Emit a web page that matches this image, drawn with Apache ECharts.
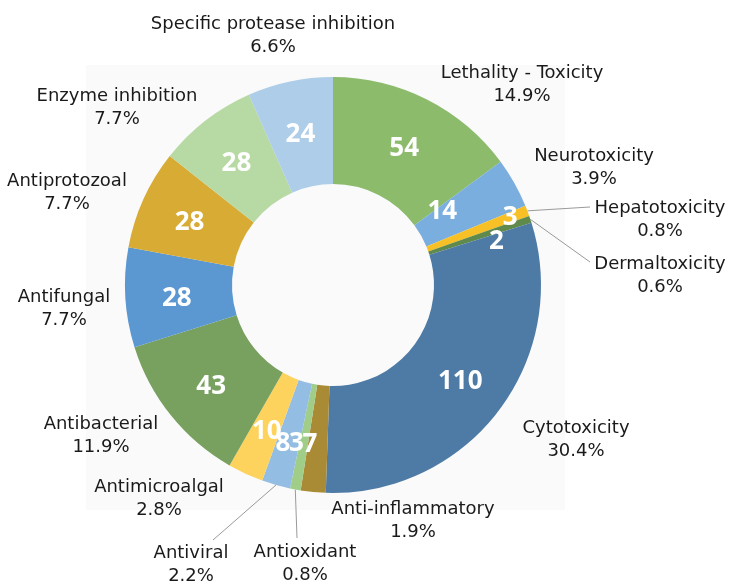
<!DOCTYPE html>
<html>
<head>
<meta charset="utf-8">
<script src="https://cdn.jsdelivr.net/npm/echarts@6/dist/echarts.min.js"></script>
<style>html,body{margin:0;padding:0;background:#fff;}#c{width:729px;height:584px;}</style>
</head>
<body>
<div id="c"></div>
<script>
// Data
var categories = ['Lethality - Toxicity','Neurotoxicity','Hepatotoxicity','Dermaltoxicity','Cytotoxicity','Anti-inflammatory','Antioxidant','Antiviral','Antimicroalgal','Antibacterial','Antifungal','Antiprotozoal','Enzyme inhibition','Specific protease inhibition'];
var counts = [54, 14, 3, 2, 110, 7, 3, 8, 10, 43, 28, 28, 28, 24];
var percentLabels = ['14.9%','3.9%','0.8%','0.6%','30.4%','1.9%','0.8%','2.2%','2.8%','11.9%','7.7%','7.7%','7.7%','6.6%'];

// Styles
var colors = ['#8cbb6c','#7aaede','#f6c026','#5f8a4c','#4e7ba6','#a98a35','#a0cd88','#93bde3','#fdd35d','#78a05e','#5b97d0','#d8ab35','#b7d9a3','#aecde8'];
// outside label centres (text layout)
var outerLabelPos = [[522,85],[594,168],[660,220],[660,276],[576,440],[413,521],[305,564],[191,565],[159,499],[101,436],[64,309],[67,193],[117,108],[273,36]];
// end points of leader lines for small slices (null = no leader line)
var leaderEnd = [null,null,[590,207],[590,262],null,null,[297,538],[213,540],null,null,null,null,null,null];
// inner label nudges
var innerNudge = [[0,4],[-28,4],[30,-11],[14,6],[2,1],[-8,3],[-8,4],[-7,7],[0,4],[1,3],[1,4],[0,3],[0,3],[0,4]];

var chart = echarts.init(document.getElementById('c'), null, {renderer:'canvas'});
var center = [333, 285];
var radius = [101, 208];

var innerData = categories.map(function(c,i){
  return {name:c, value:counts[i], itemStyle:{color:colors[i]}};
});
var outerData = categories.map(function(c,i){
  return {name:c, value:counts[i], labelLine:{show:!!leaderEnd[i]}};
});

chart.setOption({
  backgroundColor:'#ffffff',
  animation:false,
  graphic:[{type:'rect', z:-10, shape:{x:86,y:65,width:479,height:445}, style:{fill:'#fafafa'}}],
  series:[
    {
      type:'pie', center:center, radius:radius, startAngle:90, clockwise:true,
      avoidLabelOverlap:false,
      itemStyle:{borderWidth:0},
      label:{show:true, position:'inside', color:'#ffffff', fontFamily:'Open Sans', fontWeight:'bold', fontSize:26, formatter:'{c}'},
      labelLine:{show:false},
      labelLayout:function(p){var n=innerNudge[p.dataIndex];return {dx:n[0],dy:n[1]};},
      emphasis:{disabled:true},
      data:innerData
    },
    {
      type:'pie', center:center, radius:radius, startAngle:90, clockwise:true,
      avoidLabelOverlap:false, silent:true,
      itemStyle:{color:'rgba(0,0,0,0)', borderWidth:0},
      label:{show:true, position:'outside', color:'#1a1a1a', fontFamily:'DejaVu Sans', fontSize:18, lineHeight:23, align:'center',
        formatter:function(p){return p.name+'\n'+percentLabels[p.dataIndex];}},
      labelLine:{show:true, length:10, length2:10, lineStyle:{color:'#9a9a9a', width:1}},
      labelLayout:function(p){
        var i=p.dataIndex, q=outerLabelPos[i];
        var o={x:q[0], y:q[1], align:'center', verticalAlign:'middle'};
        if(leaderEnd[i] && p.labelLinePoints){
          var s=p.labelLinePoints[0];
          o.labelLinePoints=[[s[0],s[1]],leaderEnd[i],leaderEnd[i]];
        }
        return o;
      },
      emphasis:{disabled:true},
      data:outerData
    }
  ]
});
</script>
</body>
</html>
